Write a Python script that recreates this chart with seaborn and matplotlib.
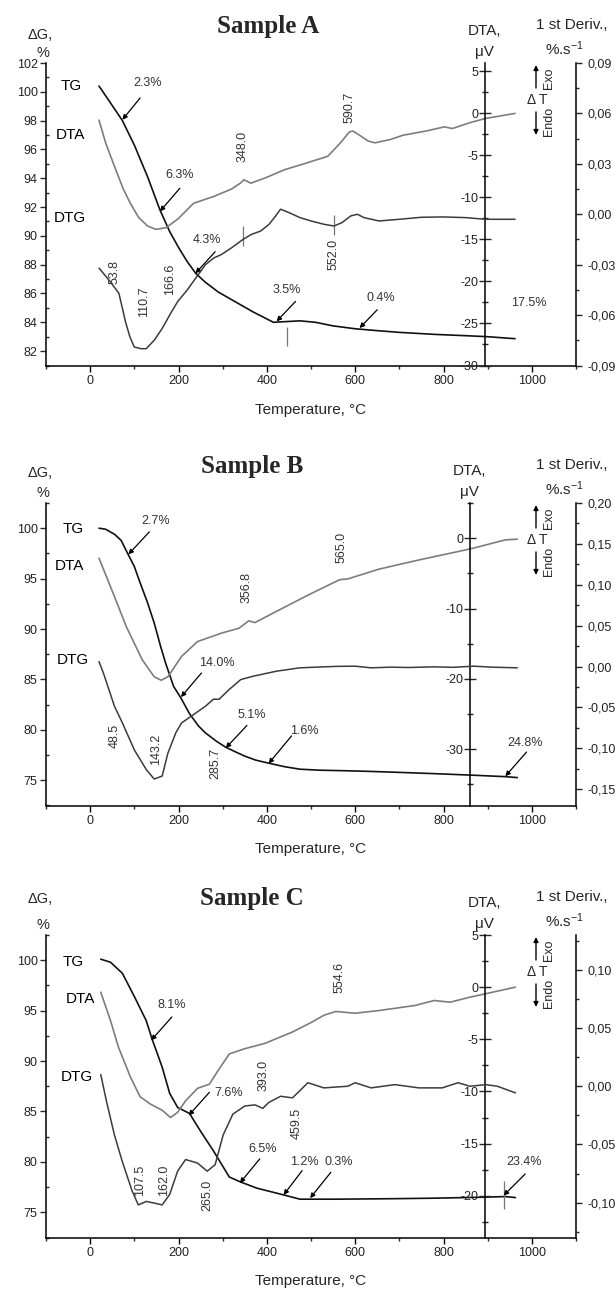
import matplotlib
matplotlib.use("Agg")
import matplotlib.pyplot as plt
from matplotlib.ticker import MultipleLocator, FuncFormatter
import seaborn as sns

W_PX, H_PX = 615, 1290

# ---------------- Sample A ----------------
a_tg_t = [20, 40, 73, 100, 130, 158, 180, 200, 220, 239, 260, 290, 330, 370,
          415, 445, 475, 510, 550, 600, 650, 700, 780, 850, 900, 962]
a_tg = [100.4, 99.5, 98.0, 96.3, 94.1, 91.8, 90.3, 89.2, 88.2, 87.4, 86.8, 86.1,
        85.4, 84.7, 84.0, 84.05, 84.1, 84.0, 83.75, 83.55, 83.42, 83.3, 83.16,
        83.07, 83.0, 82.86]
a_dta_t = [20, 35, 55, 75, 91, 110, 130, 149, 172, 200, 234, 279, 320, 340, 348,
           364, 400, 440, 490, 538, 565, 587, 595, 610, 630, 645, 680, 708, 760,
           802, 820, 860, 895, 962]
a_dta = [-0.8, -3.5, -6.3, -9.0, -10.7, -12.4, -13.4, -13.8, -13.6, -12.5, -10.7,
         -9.9, -9.0, -8.3, -7.9, -8.3, -7.6, -6.7, -5.9, -5.1, -3.6, -2.2, -2.1,
         -2.6, -3.3, -3.5, -3.1, -2.6, -2.1, -1.6, -1.8, -1.1, -0.6, 0.0]
a_dtg_t = [20, 45, 65, 73, 80, 90, 100, 115, 127, 145, 163, 180, 198, 220, 239,
           261, 280, 297, 320, 346, 365, 386, 405, 420, 431, 450, 475, 500, 530,
           552, 570, 590, 605, 620, 654, 700, 750, 800, 850, 895, 962]
a_dtg = [-0.032, -0.040, -0.047, -0.056, -0.064, -0.073, -0.079, -0.080, -0.080,
         -0.075, -0.068, -0.060, -0.052, -0.045, -0.038, -0.030, -0.026, -0.024,
         -0.020, -0.015, -0.012, -0.010, -0.006, -0.001, 0.003, 0.001, -0.002,
         -0.004, -0.006, -0.007, -0.005, -0.001, 0.000, -0.002, -0.004, -0.003,
         -0.0018, -0.0016, -0.002, -0.003, -0.003]
a_pct = ["2.3%", "6.3%", "4.3%", "3.5%", "0.4%"]
a_pct_txt = [(131, 100.6), (203, 94.25), (265, 89.73), (444, 86.26), (659, 85.68)]
a_pct_tail = [(113, 99.57), (203, 93.3), (283, 88.9), (465, 85.45), (650, 84.87)]
a_pct_tip = [(73, 98.06), (158, 91.7), (238.5, 87.4), (422, 84.06), (610, 83.6)]
a_free = [("17.5%", 994, 85.33)]
a_peaks = ["348.0", "590.7", "552.0", "53.8", "110.7", "166.6"]
a_peak_xy = [(346, 96.2), (587, 98.9), (551, 88.7), (55, 87.5), (122, 85.45), (180, 86.95)]
a_names_xy = [(-43, 100.4), (-45, 97.0), (-47, 91.24)]
a_marks_t = [346, 551, 446]
a_marks_lo = [89.27, 90.08, 82.35]
a_marks_hi = [90.66, 91.47, 83.67]

# ---------------- Sample B ----------------
b_tg_t = [20, 35, 55, 70, 86, 100, 113, 130, 145, 160, 171, 189, 205, 225, 245,
          261, 285, 306, 330, 350, 375, 404, 440, 475, 520, 565, 620, 690, 779,
          869, 940, 967]
b_tg = [100.0, 99.9, 99.4, 98.8, 97.4, 96.2, 94.6, 92.6, 90.6, 88.2, 86.6, 84.3,
        83.2, 81.6, 80.4, 79.7, 78.9, 78.3, 77.8, 77.4, 77.0, 76.7, 76.35, 76.1,
        76.0, 75.96, 75.9, 75.8, 75.66, 75.5, 75.36, 75.27]
b_dta_t = [20, 55, 82, 118, 145, 161, 176, 207, 243, 297, 337, 359, 373, 422, 493,
           565, 583, 654, 744, 833, 869, 940, 967]
b_dta = [-2.84, -8.3, -12.6, -17.3, -19.7, -20.2, -19.7, -16.8, -14.7, -13.5,
         -12.8, -11.75, -12.0, -10.4, -8.1, -5.9, -5.8, -4.4, -3.1, -1.9, -1.4,
         -0.24, -0.14]
b_dtg_t = [20, 30, 55, 73, 100, 127, 145, 163, 176, 194, 207, 234, 261, 279, 292,
           315, 341, 368, 422, 475, 520, 560, 600, 636, 680, 720, 779, 820, 869,
           910, 967]
b_dtg = [0.006, -0.008, -0.0486, -0.069, -0.102, -0.126, -0.1376, -0.134, -0.106,
         -0.081, -0.069, -0.0588, -0.0486, -0.040, -0.040, -0.028, -0.016, -0.012,
         -0.0057, -0.0016, -0.0006, 0.0002, 0.0004, -0.0016, -0.0008, -0.0012,
         -0.0004, -0.0010, 0.0004, -0.0008, -0.0016]
b_pct = ["2.7%", "14.0%", "5.1%", "1.6%", "24.8%"]
b_pct_txt = [(149, 100.73), (286, 86.63), (365.5, 81.43), (486, 79.9), (985, 78.65)]
b_pct_tail = [(134, 99.64), (252, 85.64), (355, 80.44), (456, 79.4), (988, 77.8)]
b_pct_tip = [(86.5, 97.4), (205.5, 83.25), (307, 78.2), (404, 76.66), (940, 75.4)]
b_free = []
b_peaks = ["356.8", "565.0", "48.5", "143.2", "285.7"]
b_peak_xy = [(355, 94.1), (569, 98.08), (55, 79.38), (149, 78.05), (283, 76.72)]
b_names_xy = [(-39, 99.9), (-47, 96.25), (-39, 86.94)]
b_marks_t, b_marks_lo, b_marks_hi = [], [], []

# ---------------- Sample C ----------------
c_tg_t = [24, 46, 73, 100, 127, 140, 163, 180, 198, 225, 252, 279, 297, 315, 341,
          377, 440, 475, 498, 556, 690, 779, 896, 940, 963]
c_tg = [100.1, 99.8, 98.7, 96.4, 94.0, 92.2, 89.4, 86.8, 85.4, 84.8, 82.9, 81.1,
        79.8, 78.5, 78.0, 77.4, 76.7, 76.3, 76.3, 76.3, 76.35, 76.4, 76.5, 76.56,
        76.46]
c_dta_t = [24, 46, 64, 91, 113, 136, 163, 182, 198, 216, 243, 270, 288, 315, 350,
           395, 458, 502, 529, 556, 600, 654, 735, 779, 815, 860, 905, 963]
c_dta = [-0.48, -3.2, -5.75, -8.6, -10.5, -11.2, -11.8, -12.5, -12.0, -10.9, -9.7,
         -9.3, -8.1, -6.4, -5.9, -5.4, -4.3, -3.35, -2.7, -2.33, -2.5, -2.24,
         -1.76, -1.28, -1.44, -0.96, -0.54, 0.0]
c_dtg_t = [24, 37, 55, 73, 95, 109, 127, 145, 163, 180, 198, 216, 243, 265, 283,
           301, 323, 350, 373, 391, 404, 431, 458, 493, 529, 583, 600, 636, 690,
           744, 797, 833, 860, 896, 922, 963]
c_dtg = [0.010, -0.013, -0.042, -0.065, -0.090, -0.102, -0.099, -0.1004, -0.102,
         -0.093, -0.073, -0.063, -0.066, -0.073, -0.0674, -0.042, -0.024, -0.017,
         -0.016, -0.019, -0.014, -0.0086, -0.010, 0.003, -0.0014, 0.0, 0.003,
         -0.0014, 0.0014, -0.0014, -0.0014, 0.003, 0.0, 0.0014, 0.0, -0.0057]
c_pct = ["8.1%", "7.6%", "6.5%", "1.2%", "0.3%", "23.4%"]
c_pct_txt = [(185, 95.53), (313, 86.85), (390.5, 81.3), (484, 79.97), (563, 79.97), (983, 79.97)]
c_pct_tail = [(185, 94.37), (270, 86.9), (384, 80.3), (480, 79.14), (545, 78.97), (985, 78.8)]
c_pct_tip = [(138, 92.05), (223, 84.6), (339, 77.9), (438, 76.72), (498, 76.4), (936, 76.66)]
c_free = []
c_peaks = ["554.6", "393.0", "459.5", "107.5", "162.0", "265.0"]
c_peak_xy = [(565, 98.34), (393, 88.58), (468, 83.77), (113, 78.15), (167, 78.15), (265, 76.66)]
c_names_xy = [(-39, 99.83), (-21, 96.19), (-30, 88.41)]
c_marks_t, c_marks_lo, c_marks_hi = [936], [75.33], [78.15]

names = ["TG", "DTA", "DTG"]

TG_C, DTA_C, DTG_C, TXT_C = "#111111", "#7d7d7d", "#3c3c3c", "#333333"
AX_L, AX_W, AX_H = 46 / W_PX, 530 / W_PX, 302.5 / H_PX
TICK_FS, NOTE_FS = 9, 9


def fx(x):
    return x / W_PX


def fy(y):
    return 1 - y / H_PX


def comma2(v, pos):
    if abs(v) < 1e-9:
        v = 0.0
    return f"{v:.2f}".replace(".", ",")


def as_int(v, pos):
    return f"{int(round(v))}"


def draw_panel(fig, p):
    top = p["top"]
    bottom = 1 - (top + 302.5) / H_PX
    ax = fig.add_axes([AX_L, bottom, AX_W, AX_H])
    ax_dta = ax.twinx()
    ax_der = ax.twinx()

    sns.lineplot(x=p["tg_t"], y=p["tg"], ax=ax, color=TG_C, linewidth=1.2)
    sns.lineplot(x=p["dta_t"], y=p["dta"], ax=ax_dta, color=DTA_C, linewidth=1.2)
    sns.lineplot(x=p["dtg_t"], y=p["dtg"], ax=ax_der, color=DTG_C, linewidth=1.1)

    ax.set_xlim(-100, 1100)
    ax.set_ylim(*p["ylim"])
    ax_dta.set_ylim(*p["dta_lim"])
    ax_der.set_ylim(*p["der_lim"])
    for a in (ax, ax_dta, ax_der):
        a.set_xlabel("")
        a.set_ylabel("")
        a.patch.set_visible(False)

    for s in ("top", "right"):
        ax.spines[s].set_visible(False)
    for s in ("top", "right", "bottom"):
        ax_dta.spines[s].set_visible(False)
    for s in ("top", "left", "bottom"):
        ax_der.spines[s].set_visible(False)
    ax_dta.spines["left"].set_visible(True)
    ax_dta.spines["left"].set_position(("data", p["dta_x"]))
    ax_dta.yaxis.tick_left()
    for a, s in ((ax, "left"), (ax, "bottom"), (ax_dta, "left"), (ax_der, "right")):
        a.spines[s].set_linewidth(1.1)
        a.spines[s].set_color("black")

    ax.xaxis.set_major_locator(MultipleLocator(200))
    ax.xaxis.set_minor_locator(MultipleLocator(100))
    ax.xaxis.set_major_formatter(FuncFormatter(as_int))
    ax.yaxis.set_major_locator(MultipleLocator(p["ymaj"]))
    ax.yaxis.set_minor_locator(MultipleLocator(p["ymaj"] / 2))
    ax.yaxis.set_major_formatter(FuncFormatter(as_int))
    ax_dta.yaxis.set_major_locator(MultipleLocator(p["dta_maj"]))
    ax_dta.yaxis.set_minor_locator(MultipleLocator(p["dta_maj"] / 2))
    ax_dta.yaxis.set_major_formatter(FuncFormatter(as_int))
    ax_der.yaxis.set_major_locator(MultipleLocator(p["der_maj"]))
    ax_der.yaxis.set_minor_locator(MultipleLocator(p["der_maj"] / 2))
    ax_der.yaxis.set_major_formatter(FuncFormatter(comma2))

    ax.tick_params(axis="x", which="major", direction="out", length=4, width=1,
                   labelsize=TICK_FS, pad=3, colors="black", labelcolor="#222222")
    ax.tick_params(axis="x", which="minor", direction="out", length=2.5, width=1)
    ax.tick_params(axis="y", which="major", direction="out", length=4, width=1,
                   labelsize=TICK_FS, pad=2, labelcolor="#222222")
    ax.tick_params(axis="y", which="minor", direction="in", length=2.5, width=1)
    ax_dta.tick_params(axis="y", which="major", direction="inout", length=8,
                       width=1, labelsize=TICK_FS, pad=1, labelcolor="#222222")
    ax_dta.tick_params(axis="y", which="minor", direction="inout", length=5, width=1)
    ax_der.tick_params(axis="y", which="major", direction="out", length=4, width=1,
                       labelsize=TICK_FS, pad=4, labelcolor="#222222")
    ax_der.tick_params(axis="y", which="minor", direction="out", length=2.5, width=1)

    # curve names
    for name, (x, y) in zip(names, p["names_xy"]):
        ax.text(x, y, name, fontsize=11, ha="center", va="center", color="black")

    # mass-loss steps with arrows
    for lab, txt, tail, tip in zip(p["pct"], p["pct_txt"], p["pct_tail"], p["pct_tip"]):
        ax.text(*txt, lab, fontsize=NOTE_FS, ha="center", va="center", color=TXT_C)
        ax.annotate("", xy=tip, xytext=tail,
                    arrowprops=dict(arrowstyle="-|>", color="black", lw=0.9,
                                    mutation_scale=7, shrinkA=0, shrinkB=0))
    for lab, x, y in p["free"]:
        ax.text(x, y, lab, fontsize=NOTE_FS, ha="center", va="center", color=TXT_C)

    # peak temperatures
    for lab, (x, y) in zip(p["peaks"], p["peak_xy"]):
        ax.text(x, y, lab, fontsize=NOTE_FS, ha="center", va="center", rotation=90,
                color=TXT_C)

    if p["marks_t"]:
        ax.vlines(p["marks_t"], p["marks_lo"], p["marks_hi"], color="#777777", lw=0.9)

    # headers
    fig.text(fx(p["title_x"]), fy(top - 37), p["title"], fontsize=18,
             fontweight="bold", family="Liberation Serif", ha="center", va="center")
    fig.text(fx(40), fy(top + p["dg_dy"]), "\u0394G,", fontsize=10.5, ha="center", va="center")
    fig.text(fx(43), fy(top - 10), "%", fontsize=10.5, ha="center", va="center")
    dta_px = 90 + p["dta_x"] * 0.441
    fig.text(fx(dta_px), fy(top - 32), "DTA,", fontsize=11, ha="center", va="center")
    fig.text(fx(dta_px), fy(top - 11), "\u03bcV", fontsize=11, ha="center", va="center")
    fig.text(fx(572), fy(top - 38), "1 st Deriv.,", fontsize=11, ha="center", va="center")
    fig.text(fx(565), fy(top - 14), "%.s$^{-1}$", fontsize=11, ha="center", va="center")

    # exo / endo marker
    arrow = dict(arrowstyle="-|>", color="black", lw=1.0, mutation_scale=7,
                 shrinkA=0, shrinkB=0)
    ax.annotate("", xy=(fx(536), fy(top + 2)), xytext=(fx(536), fy(top + 25)),
                xycoords="figure fraction", textcoords="figure fraction", arrowprops=arrow)
    ax.annotate("", xy=(fx(536), fy(top + 72)), xytext=(fx(536), fy(top + 49)),
                xycoords="figure fraction", textcoords="figure fraction", arrowprops=arrow)
    fig.text(fx(549), fy(top + 15), "Exo", fontsize=9, rotation=90, ha="center", va="center")
    fig.text(fx(549), fy(top + 58), "Endo", fontsize=9, rotation=90, ha="center", va="center")
    fig.text(fx(537), fy(top + 37), "\u0394 T", fontsize=10, ha="center", va="center")

    fig.text(fx(311), fy(top + 302.5 + 44), "Temperature, \u00b0C", fontsize=11,
             ha="center", va="center")


sns.set_style("ticks")
plt.rcParams["font.family"] = ["Liberation Sans", "DejaVu Sans"]
plt.rcParams["axes.unicode_minus"] = False
plt.rcParams["mathtext.default"] = "regular"

panels = [
    dict(top=63, title="Sample A", title_x=268, dg_dy=-28,
         tg_t=a_tg_t, tg=a_tg, dta_t=a_dta_t, dta=a_dta, dtg_t=a_dtg_t, dtg=a_dtg,
         ylim=(81, 102), ymaj=2, dta_x=895, dta_lim=(-30, 6), dta_maj=5,
         der_lim=(-0.09, 0.09), der_maj=0.03,
         pct=a_pct, pct_txt=a_pct_txt, pct_tail=a_pct_tail, pct_tip=a_pct_tip,
         free=a_free, peaks=a_peaks, peak_xy=a_peak_xy, names_xy=a_names_xy,
         marks_t=a_marks_t, marks_lo=a_marks_lo, marks_hi=a_marks_hi),
    dict(top=503, title="Sample B", title_x=252, dg_dy=-30,
         tg_t=b_tg_t, tg=b_tg, dta_t=b_dta_t, dta=b_dta, dtg_t=b_dtg_t, dtg=b_dtg,
         ylim=(72.5, 102.5), ymaj=5, dta_x=860, dta_lim=(-38, 5), dta_maj=10,
         der_lim=(-0.17, 0.20), der_maj=0.05,
         pct=b_pct, pct_txt=b_pct_txt, pct_tail=b_pct_tail, pct_tip=b_pct_tip,
         free=b_free, peaks=b_peaks, peak_xy=b_peak_xy, names_xy=b_names_xy,
         marks_t=b_marks_t, marks_lo=b_marks_lo, marks_hi=b_marks_hi),
    dict(top=935, title="Sample C", title_x=252, dg_dy=-36,
         tg_t=c_tg_t, tg=c_tg, dta_t=c_dta_t, dta=c_dta, dtg_t=c_dtg_t, dtg=c_dtg,
         ylim=(72.5, 102.5), ymaj=5, dta_x=895, dta_lim=(-24, 5), dta_maj=5,
         der_lim=(-0.13, 0.13), der_maj=0.05,
         pct=c_pct, pct_txt=c_pct_txt, pct_tail=c_pct_tail, pct_tip=c_pct_tip,
         free=c_free, peaks=c_peaks, peak_xy=c_peak_xy, names_xy=c_names_xy,
         marks_t=c_marks_t, marks_lo=c_marks_lo, marks_hi=c_marks_hi),
]

fig = plt.figure(figsize=(W_PX / 100, H_PX / 100), dpi=100)
for p in panels:
    draw_panel(fig, p)

fig.savefig("out.png", dpi=100)
